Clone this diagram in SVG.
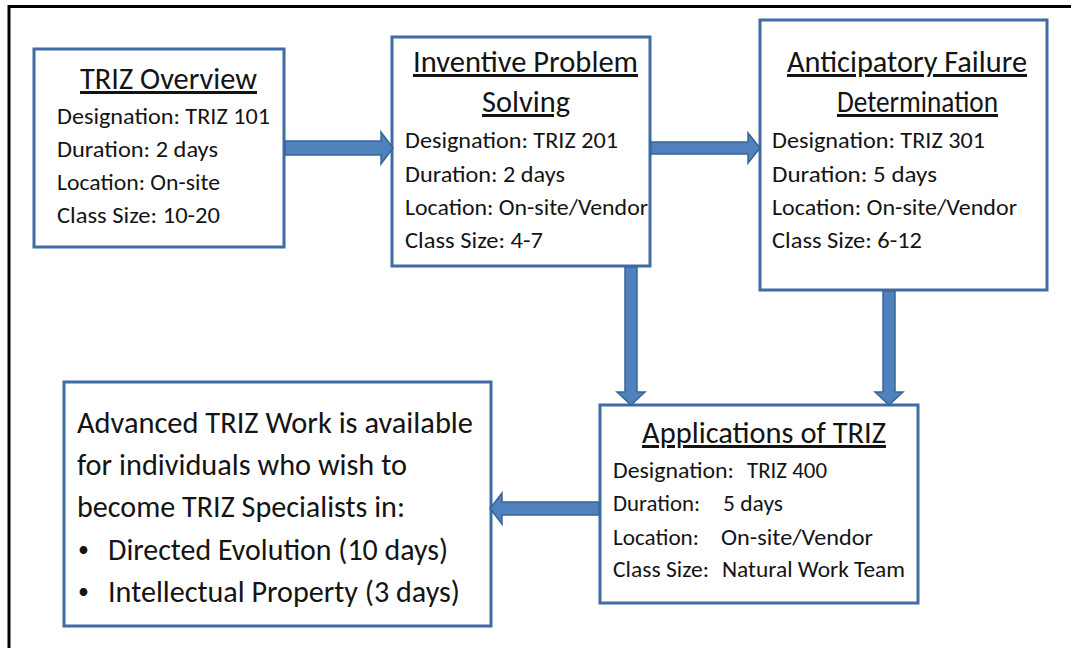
<svg xmlns="http://www.w3.org/2000/svg" width="1071" height="648" viewBox="0 0 1071 648" xml:space="preserve">
<style>
.box{fill:#fff;stroke:#3f6ca4;stroke-width:3}
.t{font-family:Carlito,Lato,"Liberation Sans",sans-serif;fill:#141414}
.ttl{font-size:30px;text-decoration:underline}
.b{font-size:23px}
.big{font-size:30px}
.bul{font-size:22px}
.arr{fill:#4f81bd;stroke:#3a6497;stroke-width:1.5;stroke-linejoin:miter}
.frame{stroke:#000;stroke-width:3;fill:none}
</style>
<rect width="1071" height="648" fill="#fff"/>
<path class="frame" d="M9,648 V6.5 H1071"/>
<g id="triz-overview">
<rect class="box" x="34" y="49" width="250" height="198"/>
<text class="t ttl" x="80" y="89" textLength="177" lengthAdjust="spacingAndGlyphs">TRIZ Overview</text>
<text class="t b" x="57" y="124" textLength="213" lengthAdjust="spacingAndGlyphs">Designation:  TRIZ 101</text>
<text class="t b" x="57" y="157" textLength="161" lengthAdjust="spacingAndGlyphs">Duration:  2 days</text>
<text class="t b" x="57" y="190" textLength="163" lengthAdjust="spacingAndGlyphs">Location: On-site</text>
<text class="t b" x="57" y="223" textLength="163" lengthAdjust="spacingAndGlyphs">Class Size:  10-20</text>
</g>
<g id="inventive-problem-solving">
<rect class="box" x="392" y="37" width="258" height="229"/>
<text class="t ttl" x="413" y="72" textLength="225" lengthAdjust="spacingAndGlyphs">Inventive Problem</text>
<text class="t ttl" x="482" y="112" textLength="88" lengthAdjust="spacingAndGlyphs">Solving</text>
<text class="t b" x="405" y="148" textLength="213" lengthAdjust="spacingAndGlyphs">Designation:  TRIZ 201</text>
<text class="t b" x="405" y="182" textLength="160" lengthAdjust="spacingAndGlyphs">Duration:  2 days</text>
<text class="t b" x="405" y="215" textLength="243" lengthAdjust="spacingAndGlyphs">Location: On-site/Vendor</text>
<text class="t b" x="405" y="248" textLength="138" lengthAdjust="spacingAndGlyphs">Class Size:  4-7</text>
</g>
<g id="anticipatory-failure-determination">
<rect class="box" x="760" y="20" width="287" height="270"/>
<text class="t ttl" x="787" y="72" textLength="240" lengthAdjust="spacingAndGlyphs">Anticipatory Failure</text>
<text class="t ttl" x="837" y="112" textLength="161" lengthAdjust="spacingAndGlyphs">Determination</text>
<text class="t b" x="772" y="148" textLength="213" lengthAdjust="spacingAndGlyphs">Designation:  TRIZ 301</text>
<text class="t b" x="772" y="182" textLength="165" lengthAdjust="spacingAndGlyphs">Duration:   5 days</text>
<text class="t b" x="772" y="215" textLength="245" lengthAdjust="spacingAndGlyphs">Location: On-site/Vendor</text>
<text class="t b" x="772" y="248" textLength="150" lengthAdjust="spacingAndGlyphs">Class Size:  6-12</text>
</g>
<g id="applications-of-triz">
<rect class="box" x="600" y="405" width="318" height="198"/>
<text class="t ttl" x="642" y="443" textLength="244" lengthAdjust="spacingAndGlyphs">Applications of TRIZ</text>
<text class="t b" x="613" y="478" textLength="121" lengthAdjust="spacingAndGlyphs">Designation:</text>
<text class="t b" x="747" y="478" textLength="80" lengthAdjust="spacingAndGlyphs">TRIZ 400</text>
<text class="t b" x="613" y="511" textLength="87" lengthAdjust="spacingAndGlyphs">Duration:</text>
<text class="t b" x="723" y="511" textLength="60" lengthAdjust="spacingAndGlyphs">5 days</text>
<text class="t b" x="613" y="545" textLength="86" lengthAdjust="spacingAndGlyphs">Location:</text>
<text class="t b" x="721" y="545" textLength="152" lengthAdjust="spacingAndGlyphs">On-site/Vendor</text>
<text class="t b" x="613" y="577" textLength="96" lengthAdjust="spacingAndGlyphs">Class Size:</text>
<text class="t b" x="722" y="577" textLength="183" lengthAdjust="spacingAndGlyphs">Natural Work Team</text>
</g>
<g id="advanced-triz-work">
<rect class="box" x="64" y="382" width="427" height="244"/>
<text class="t big" x="77" y="433" textLength="396" lengthAdjust="spacingAndGlyphs">Advanced TRIZ Work is available</text>
<text class="t big" x="77" y="475" textLength="330" lengthAdjust="spacingAndGlyphs">for individuals who wish to</text>
<text class="t big" x="77" y="517" textLength="328" lengthAdjust="spacingAndGlyphs">become TRIZ Specialists in:</text>
<text class="t bul" x="78" y="557">•</text>
<text class="t big" x="108" y="560" textLength="340" lengthAdjust="spacingAndGlyphs">Directed Evolution (10 days)</text>
<text class="t bul" x="78" y="599">•</text>
<text class="t big" x="108" y="602" textLength="352" lengthAdjust="spacingAndGlyphs">Intellectual Property (3 days)</text>
</g>
<g id="connectors">
<path class="arr" d="M285,141 H381 V132 L393,148 L381,164 V155 H285 Z"/>
<path class="arr" d="M651,142 H748 V133 L760,148 L748,163 V154 H651 Z"/>
<path class="arr" d="M625,267 V392 H617 L631,405 L645,392 H637 V267 Z"/>
<path class="arr" d="M883,291 V392 H875 L889,405 L903,392 H895 V291 Z"/>
<path class="arr" d="M599,502 H502 V493 L490,508.5 L502,524 V515 H599 Z"/>
</g>
</svg>
